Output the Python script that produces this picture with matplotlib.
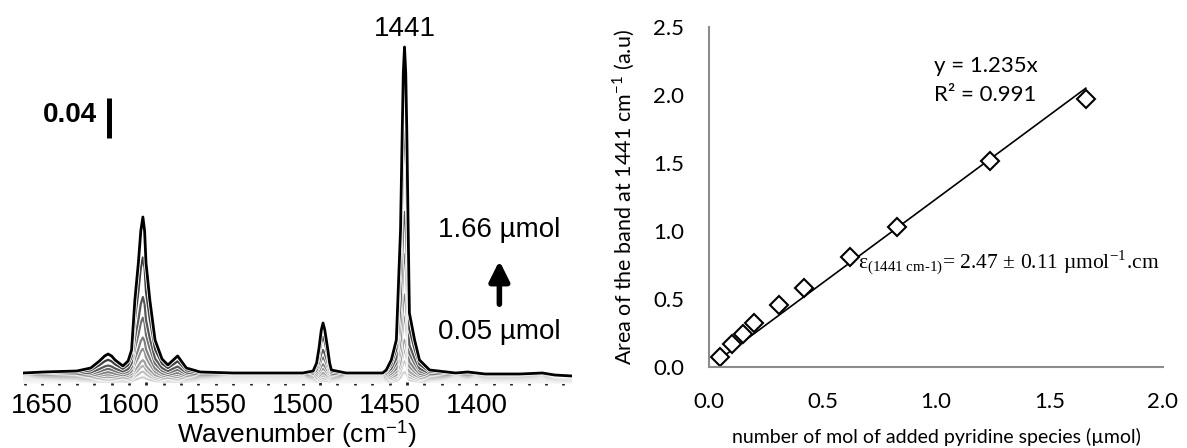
import numpy as np
import matplotlib.pyplot as plt
import matplotlib.patheffects as pe
from matplotlib.ticker import MultipleLocator

plt.rcParams['mathtext.fontset'] = 'stix'

# --- left panel: IR spectra (top curve = 1.66 umol)
wn = [1661, 1649, 1640, 1630, 1622, 1617, 1614, 1612, 1610, 1608, 1603.5, 1600.5, 1598.5,
      1596.6, 1594.6, 1593.2, 1592, 1591, 1590.2, 1588, 1585, 1581, 1577.6, 1574.5, 1572,
      1569.5, 1567, 1559, 1540, 1520, 1500, 1494, 1492, 1490.6, 1489.3, 1488.3, 1487.3,
      1485.7, 1484.5, 1483.5, 1475, 1460, 1454, 1451.9, 1449, 1446.1, 1443.7, 1442.7,
      1442.1, 1441.4, 1440.7, 1440.1, 1439.3, 1438.6, 1435.6, 1432.8, 1427, 1412, 1405,
      1395, 1375, 1362, 1355, 1345]
absorb = [0.000, 0.001, 0.0015, 0.002, 0.005, 0.012, 0.017, 0.019, 0.017, 0.013, 0.007,
          0.012, 0.023, 0.073, 0.110, 0.142, 0.156, 0.142, 0.110, 0.073, 0.033, 0.014,
          0.008, 0.013, 0.017, 0.011, 0.005, 0.001, 0.000, 0.000, 0.000, 0.002, 0.010,
          0.025, 0.043, 0.050, 0.043, 0.025, 0.010, 0.003, 0.000, 0.000, 0.000, 0.003,
          0.013, 0.033, 0.143, 0.243, 0.300, 0.326, 0.300, 0.243, 0.143, 0.060, 0.033,
          0.013, 0.003, 0.000, 0.001, -0.001, -0.001, 0.000, -0.002, -0.003]
amounts = [0.05, 0.10, 0.15, 0.20, 0.31, 0.42, 0.62, 0.83, 1.24, 1.66]
baseline_shift = [-0.009, -0.008, -0.007, -0.006, -0.005, -0.004, -0.003, -0.002, -0.001, 0.0]
grays = ['#d0d0d0', '#c0c0c0', '#b0b0b0', '#a0a0a0', '#909090', '#808080',
         '#6c6c6c', '#565656', '#3c3c3c', '#000000']

# --- right panel: band area vs amount
area = [0.071, 0.169, 0.243, 0.321, 0.456, 0.583, 0.811, 1.032, 1.517, 1.97]
slope = 1.235

fig = plt.figure(figsize=(11.87, 4.48), dpi=100)

ax1 = fig.add_axes([23/1187, 63/448, 549/1187, 365/448])
wn = np.array(wn)
absorb = np.array(absorb)
for amt, sh, c in zip(amounts, baseline_shift, grays):
    lw = 2.0 if c == '#000000' else 1.6
    ax1.plot(wn, absorb * amt / amounts[-1] + sh, color=c, lw=lw,
             solid_joinstyle='round',
             path_effects=[pe.Stroke(linewidth=lw + 1.2, foreground='white'), pe.Normal()])
ax1.set_xlim(1661, 1345)
ax1.set_ylim(-0.012, 0.353)
for s in ax1.spines.values():
    s.set_visible(False)
ax1.yaxis.set_visible(False)
ax1.xaxis.set_minor_locator(MultipleLocator(10))
ax1.set_xticks([1650, 1600, 1550, 1500, 1450, 1400])
ax1.tick_params(axis='x', which='both', direction='in', length=2.5, width=2,
                color='#222222', labelsize=20, pad=6)
for lab in ax1.get_xticklabels():
    lab.set_family('Liberation Sans')
ax1.text(0.5, -0.135, r'Wavenumber (cm$^{\mathregular{-1}}$)', transform=ax1.transAxes,
         ha='center', va='center', fontsize=19, family='Liberation Sans')
ax1.text(1441.4, 0.344, '1441', ha='center', va='center', fontsize=20,
         family='Liberation Sans')
ax1.text(1633.9, 0.258, '0.04', ha='center', va='center', fontsize=20,
         fontweight='bold', family='Liberation Sans')
ax1.plot([1611.5, 1611.5], [0.235, 0.275], color='black', lw=3.6, solid_capstyle='butt')
ax1.text(1386.8, 0.143, '1.66 µmol', ha='center', va='center', fontsize=20,
         family='Liberation Sans')
ax1.text(1386.8, 0.041, '0.05 µmol', ha='center', va='center', fontsize=20,
         family='Liberation Sans')
ax1.annotate('', xy=(1386.8, 0.115), xytext=(1386.8, 0.066),
             arrowprops=dict(arrowstyle='-|>', lw=4, color='black', mutation_scale=30))

ax2 = fig.add_axes([709/1187, 81/448, 454/1187, 340/448])
x_fit = np.array([0.04, amounts[-1]])
ax2.plot(x_fit, slope * x_fit, color='black', lw=1.2)
ax2.plot(amounts, area, 'D', ms=9, mfc='white', mec='black', mew=1.5)
ax2.set_xlim(0, 2)
ax2.set_ylim(0, 2.5)
ax2.spines['top'].set_visible(False)
ax2.spines['right'].set_visible(False)
for s in ('left', 'bottom'):
    ax2.spines[s].set_color('#8c8c8c')
    ax2.spines[s].set_linewidth(1.5)
ax2.set_xticks([0, 0.5, 1.0, 1.5, 2.0])
ax2.set_yticks([0, 0.5, 1.0, 1.5, 2.0, 2.5])
ax2.set_xticklabels(['0.0', '0.5', '1.0', '1.5', '2.0'])
ax2.set_yticklabels(['0.0', '0.5', '1.0', '1.5', '2.0', '2.5'])
ax2.tick_params(axis='x', length=0, labelsize=16, pad=18)
ax2.tick_params(axis='y', length=0, labelsize=16, pad=18)
for lab in ax2.get_xticklabels() + ax2.get_yticklabels():
    lab.set_family('Lato')
ax2.text(0.5, -0.206, 'number of mol of added pyridine species (µmol)', transform=ax2.transAxes,
         ha='center', va='center', fontsize=14, family='Lato')
ax2.text(-0.19, 0.5, r'Area of the band at 1441 cm$^{\mathregular{-1}}$ (a.u)',
         transform=ax2.transAxes, rotation=90, ha='center', va='center',
         fontsize=15.5, family='Lato')
ax2.text(0.99, 2.21, 'y = 1.235x', ha='left', va='center', fontsize=16, family='Lato')
ax2.text(0.99, 2.0, 'R² = 0.991', ha='left', va='center', fontsize=16, family='Lato')
ax2.text(0.655, 0.765,
         r'$\mathregular{\varepsilon_{(1441\ cm\text{-}1)}}$= 2.47 ± 0.11 µmol$^{\mathregular{-1}}$.cm',
         ha='left', va='center', fontsize=15.5, family='Liberation Serif')

fig.savefig('out.png', dpi=100)
